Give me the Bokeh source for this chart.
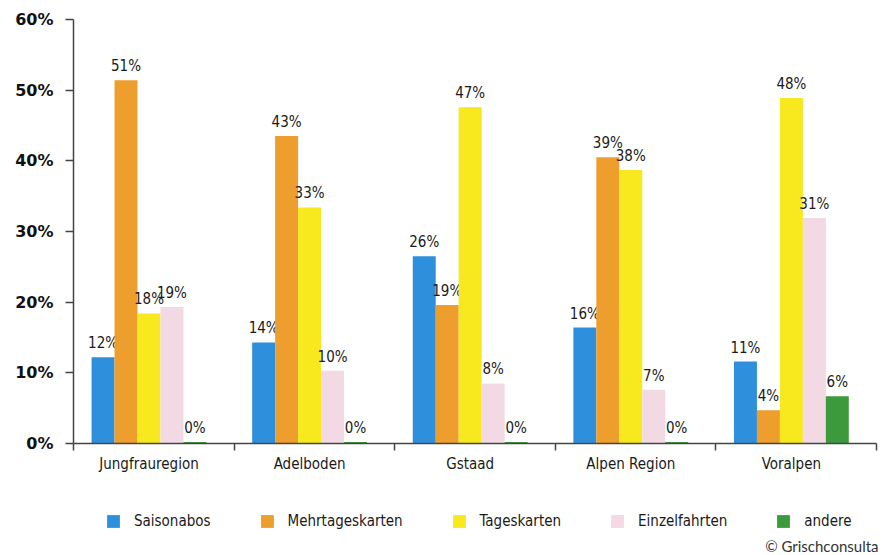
from bokeh.plotting import figure
from bokeh.layouts import column
from bokeh.models import (Range1d, FixedTicker, Legend, LegendItem, Label,
                          ColumnDataSource, PrintfTickFormatter)
from bokeh.core.properties import value
from bokeh.embed import file_html
from bokeh.resources import INLINE

regions = ["Jungfrauregion", "Adelboden", "Gstaad", "Alpen Region", "Voralpen"]
series = ["Saisonabos", "Mehrtageskarten", "Tageskarten", "Einzelfahrten", "andere"]
colors = ["#2E8FDC", "#EE9E2C", "#F8E81E", "#F2D9E3", "#3C9A3C"]

# bar heights (percent)
saisonabos = [12.2, 14.3, 26.5, 16.4, 11.6]
mehrtageskarten = [51.4, 43.5, 19.6, 40.5, 4.7]
tageskarten = [18.4, 33.4, 47.6, 38.7, 48.9]
einzelfahrten = [19.3, 10.3, 8.5, 7.6, 31.9]
andere = [0.2, 0.2, 0.2, 0.2, 6.7]
data = [saisonabos, mehrtageskarten, tageskarten, einzelfahrten, andere]

# value labels as printed above the bars
saisonabos_lab = [12, 14, 26, 16, 11]
mehrtageskarten_lab = [51, 43, 19, 39, 4]
tageskarten_lab = [18, 33, 47, 38, 48]
einzelfahrten_lab = [19, 10, 8, 7, 31]
andere_lab = [0, 0, 0, 0, 6]
labels = [saisonabos_lab, mehrtageskarten_lab, tageskarten_lab,
          einzelfahrten_lab, andere_lab]

y_ticks = [0, 10, 20, 30, 40, 50, 60]

COND = "'Liberation Sans Narrow', 'DejaVu Sans Condensed', sans-serif"

p = figure(width=887, height=495, output_backend="svg", toolbar_location=None,
           x_range=Range1d(0, 5), y_range=Range1d(0, 60),
           min_border_left=73, min_border_right=11, min_border_top=19,
           min_border_bottom=52)
p.frame_align = False
p.outline_line_color = None
p.grid.grid_line_color = None
p.background_fill_color = "white"
p.border_fill_color = "white"

center = 0.47
step = 0.143
for k, (name, vals, labs, col) in enumerate(zip(series, data, labels, colors)):
    xs = [i + center + (k - 2) * step for i in range(len(regions))]
    src = ColumnDataSource(dict(x=xs, top=vals,
                                lab=["%d%%" % v for v in labs]))
    p.vbar(x="x", top="top", width=step, bottom=0, source=src,
           fill_color=col, line_color=None)
    p.text(x="x", y="top", text="lab", source=src, text_align="center",
           text_baseline="bottom", y_offset=-5, text_font=value(COND),
           text_font_size="15px", text_color="#1a1a1a")

# x axis
p.xaxis.ticker = FixedTicker(ticks=[i + center for i in range(5)],
                             minor_ticks=[0, 1, 2, 3, 4, 5])
p.xaxis.major_label_overrides = {i + center: regions[i] for i in range(5)}
p.xaxis.major_tick_line_color = None
p.xaxis.minor_tick_in = 0
p.xaxis.minor_tick_out = 7
p.xaxis.minor_tick_line_color = "#444444"
p.xaxis.minor_tick_line_width = 1.5
p.xaxis.axis_line_color = "#444444"
p.xaxis.axis_line_width = 1.5
p.xaxis.major_label_text_font = COND
p.xaxis.major_label_text_font_size = "15px"
p.xaxis.major_label_text_color = "#1a1a1a"
p.xaxis.major_label_standoff = 4

# y axis
p.yaxis.ticker = FixedTicker(ticks=y_ticks, minor_ticks=[])
p.yaxis.formatter = PrintfTickFormatter(format="%d%%")
p.yaxis.major_tick_in = 0
p.yaxis.major_tick_out = 8
p.yaxis.major_tick_line_color = "#444444"
p.yaxis.major_tick_line_width = 1.5
p.yaxis.axis_line_color = "#444444"
p.yaxis.axis_line_width = 1.5
p.yaxis.major_label_text_font = "DejaVu Sans"
p.yaxis.major_label_text_font_style = "bold"
p.yaxis.major_label_text_font_size = "16px"
p.yaxis.major_label_text_color = "#111111"
p.yaxis.major_label_standoff = 12

# legend figure below the chart (no axes, frame covers the whole canvas)
lf = figure(width=887, height=60, output_backend="svg", toolbar_location=None,
            x_range=Range1d(0, 1), y_range=Range1d(0, 1),
            x_axis_location=None, y_axis_location=None,
            min_border=0, min_border_left=0, min_border_right=0,
            min_border_top=0, min_border_bottom=0)
lf.frame_align = False
lf.grid.grid_line_color = None
lf.outline_line_color = None
lf.background_fill_color = "white"
lf.border_fill_color = "white"

items = []
for name, col in zip(series, colors):
    # zero-height proxy renderer, used only for the legend swatch
    r = lf.vbar(x=[-5], top=[0], bottom=[0], width=0.1,
                fill_color=col, line_color=None)
    items.append(LegendItem(label=name, renderers=[r]))

leg = Legend(items=items, location=(105, 25), orientation="horizontal",
             glyph_width=16, glyph_height=16, label_height=16,
             label_standoff=13, padding=0, margin=0, spacing=48,
             border_line_color=None, background_fill_alpha=0,
             label_text_font=COND, label_text_font_size="15px",
             label_text_color="#1a1a1a", label_text_baseline="middle")
lf.add_layout(leg)

lf.add_layout(Label(x=878, y=10, x_units="screen", y_units="screen",
                    text="© Grischconsulta", text_font="Lato",
                    text_font_size="15px", text_color="#333333",
                    text_align="right", text_baseline="middle"))

layout = column(p, lf, spacing=0)
open("out.html", "w").write(file_html(layout, INLINE))
